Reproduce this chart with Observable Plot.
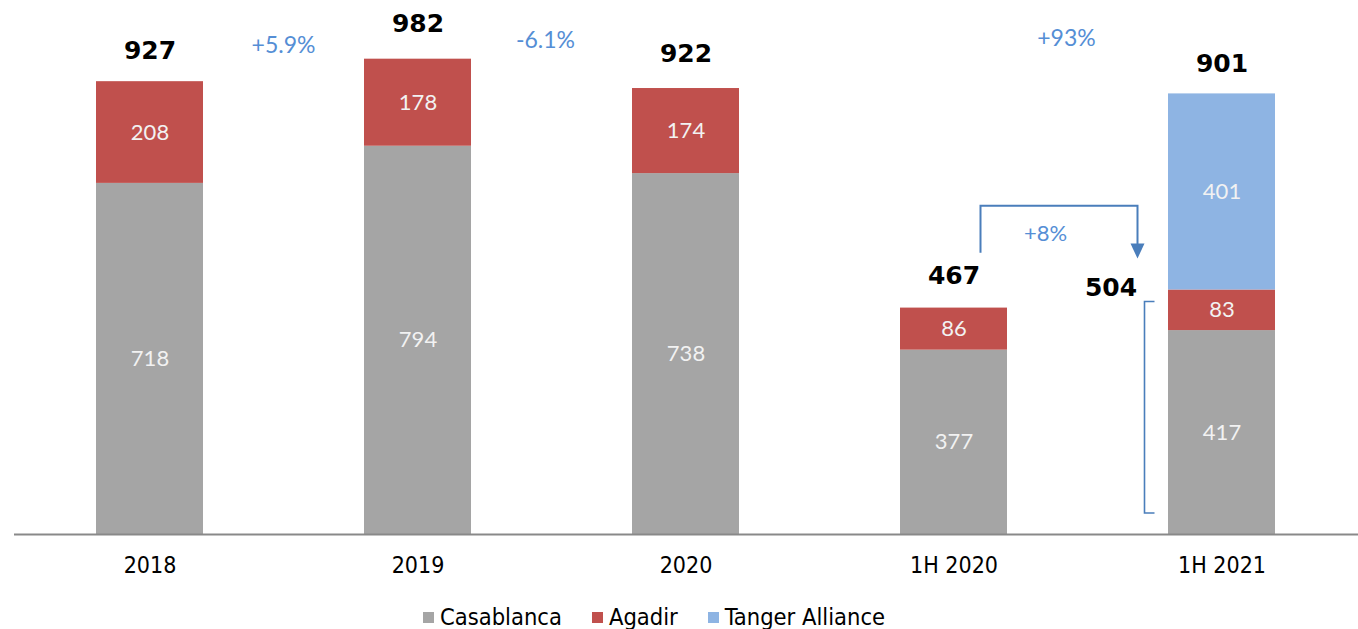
<!DOCTYPE html>
<html>
<head>
<meta charset="utf-8">
<script src="https://cdn.jsdelivr.net/npm/d3@7"></script>
<script src="https://cdn.jsdelivr.net/npm/@observablehq/plot@0.6"></script>
<style>
  html, body { margin: 0; padding: 0; background: #fff; }
  #wrap { position: relative; width: 1358px; height: 629px; }
  #legend { position: absolute; left: 423px; top: 600px; height: 34px; display: flex; align-items: center;
    font-family: "DejaVu Sans Condensed", "DejaVu Sans", sans-serif; font-size: 23.5px; color: #000; }
  .item { display: flex; align-items: center; margin-right: 30px; }
  .sw { width: 11px; height: 11px; margin-right: 6px; }
</style>
</head>
<body>
<div id="wrap">
  <div id="chart"></div>
  <div id="legend"></div>
</div>
<script>
// ---- data ----
const categories = ["2018", "2019", "2020", "1H 2020", "1H 2021"];
const series = ["Casablanca", "Agadir", "Tanger Alliance"];
const casablanca = [718, 794, 738, 377, 417];
const agadir = [208, 178, 174, 86, 83];
const tangerAlliance = [0, 0, 0, 0, 401];
const totals = [927, 982, 922, 467, 901];
const growthPairs = [["2018", "2019"], ["2019", "2020"], ["1H 2020", "1H 2021"]];
const growthLabels = ["+5.9%", "-6.1%", "+93%"];
const compareValues = [467, 504];   // 1H 2020 vs 1H 2021 like-for-like
const compareLabel = "+8%";
const compareBase = [500];          // Casablanca + Agadir 1H 2021 bracket top

const colors = ["#A5A5A5", "#C0504D", "#8EB4E3"];

const seriesValues = [casablanca, agadir, tangerAlliance];
const rows = [];
series.forEach((s, si) => {
  categories.forEach((c, ci) => {
    const v = seriesValues[si][ci];
    if (v > 0) rows.push({cat: c, series: s, value: v});
  });
});

const blue = "#4A7EBB";
const pctColor = "#558ED5";

function annotations(index, scales) {
  const x = scales.x, y = scales.y;
  const bw = typeof x.bandwidth === "function" ? x.bandwidth() : (x.bandwidth || 0);
  const cx = c => x(c) + bw / 2;
  const g = d3.create("svg:g");
  // growth labels between bars
  const pctDy = [-9, -14, -16];
  growthPairs.forEach((p, i) => {
    const mx = (cx(p[0]) + cx(p[1])) / 2 + [0, -6, -21][i];
    g.append("text")
      .attr("x", mx).attr("y", y(d3.max(totals)) + pctDy[i])
      .attr("dy", "0.35em").attr("text-anchor", "middle")
      .attr("font-family", "Lato, sans-serif").attr("font-size", 23)
      .attr("fill", pctColor).text(growthLabels[i]);
  });
  // elbow arrow from 1H 2020 total to 1H 2021 like-for-like
  const lx = cx("1H 2020") + 27;
  const rx = cx("1H 2021") - 84;
  const yBottomL = y(compareValues[0]) - 53;
  const yTop = y(compareValues[0]) - 100;
  const tip = y(compareValues[1]) - 29;
  g.append("path")
    .attr("d", `M${lx},${yBottomL}V${yTop}H${rx}V${tip - 14}`)
    .attr("fill", "none").attr("stroke", blue).attr("stroke-width", 2);
  g.append("path")
    .attr("d", `M${rx - 7},${tip - 15}L${rx + 7},${tip - 15}L${rx},${tip}Z`)
    .attr("fill", blue);
  g.append("text")
    .attr("x", lx + 65).attr("y", yTop + 28).attr("dy", "0.35em")
    .attr("text-anchor", "middle")
    .attr("font-family", "Lato, sans-serif").attr("font-size", 22)
    .attr("fill", pctColor).text(compareLabel);
  // bracket
  const bx = cx("1H 2021") - 77;
  const bTop = y(compareBase[0]) + 12;
  const bBot = y(0) - 21;
  g.append("path")
    .attr("d", `M${bx + 10},${bTop}H${bx}V${bBot}H${bx + 10}`)
    .attr("fill", "none").attr("stroke", blue).attr("stroke-width", 1.6);
  return g.node();
}

const chart = Plot.plot({
  width: 1358,
  height: 595,
  marginLeft: 14,
  marginRight: 0,
  marginTop: 0,
  marginBottom: 61,
  style: {fontFamily: "'DejaVu Sans Condensed', 'DejaVu Sans', sans-serif", fontSize: "23px", color: "#000", background: "#fff"},
  x: {domain: categories, paddingInner: 0.6, paddingOuter: 0.3, label: null, tickSize: 0, tickPadding: 22},
  y: {domain: [0, 1092], axis: null},
  color: {domain: series, range: colors},
  marks: [
    Plot.barY(rows, {x: "cat", y: "value", fill: "series"}),
    Plot.text(rows, Plot.stackY({x: "cat", y: "value", z: "series", text: "value",
      fill: "#F2F2F2", fontSize: 22, fontFamily: "Lato, sans-serif"})),
    Plot.ruleY([0], {stroke: "#898989", strokeWidth: 2, dx: 0}),
    Plot.text(categories, {x: d => d, y: (d, i) => totals[i], text: (d, i) => String(totals[i]),
      dy: -30, fontWeight: "bold", fontSize: 25, fontFamily: "'DejaVu Sans', sans-serif", fill: "#000"}),
    Plot.text([compareValues[1]], {x: () => "1H 2021", y: d => d, text: d => String(d),
      dx: -111, fontWeight: "bold", fontSize: 25, fontFamily: "'DejaVu Sans', sans-serif", fill: "#000"}),
    annotations
  ]
});
document.getElementById("chart").appendChild(chart);

const legend = document.getElementById("legend");
series.forEach((s, i) => {
  const it = document.createElement("div");
  it.className = "item";
  const sw = document.createElement("span");
  sw.className = "sw";
  sw.style.background = colors[i];
  const t = document.createElement("span");
  t.textContent = s;
  it.appendChild(sw); it.appendChild(t);
  legend.appendChild(it);
});
</script>
</body>
</html>
